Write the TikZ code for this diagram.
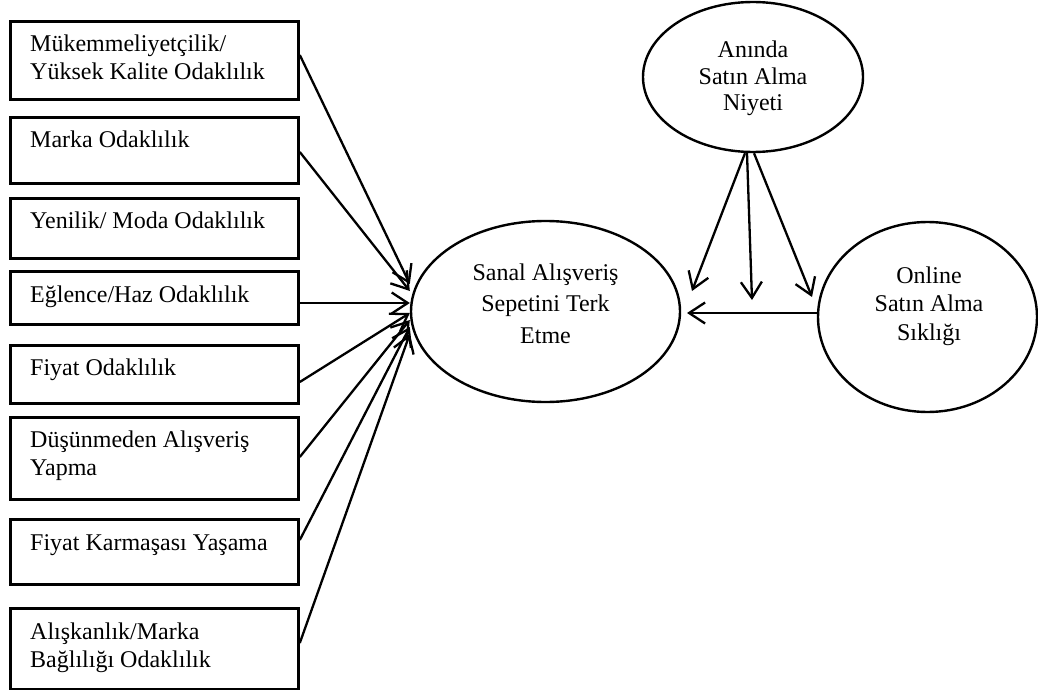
\documentclass[tikz,border=0pt]{standalone}
\usepackage{fontspec}
\setmainfont{Liberation Serif}
\usetikzlibrary{arrows.meta,shapes.geometric,calc}
\begin{document}
\begin{tikzpicture}[x=1pt,y=-1pt,
  box/.style={draw, line width=2.8pt, rectangle, inner sep=0pt, minimum width=288pt, anchor=north west},
  btext/.style={anchor=base west, align=left, inner sep=0pt, font=\fontsize{24}{28}\selectfont},
  ell/.style={draw, line width=2.4pt, ellipse, inner sep=0pt},
  etext/.style={anchor=base, align=center, inner sep=0pt},
  arr/.style={line width=2.3pt, -{Straight Barb[length=16pt,width=21pt,line width=2.3pt]}}
]
\useasboundingbox (0,0) rectangle (1038,690);

% left boxes
\node[box, minimum height=78pt] (b1) at (9,20) {};
\node[box, minimum height=66pt] (b2) at (9,116) {};
\node[box, minimum height=60pt] (b3) at (9,197) {};
\node[box, minimum height=53pt] (b4) at (9,270) {};
\node[box, minimum height=58pt] (b5) at (9,344) {};
\node[box, minimum height=82pt] (b6) at (9,416) {};
\node[box, minimum height=65pt] (b7) at (9,518) {};
\node[box, minimum height=81pt] (b8) at (9,607) {};

% (base anchor = baseline of the last line)
\node[btext] (t1) at ($(b1.north west)+(21,60)$) {Mükemmeliyetçilik/\\Yüksek Kalite Odaklılık};
\node[btext] (t2) at ($(b2.north west)+(21,31)$) {Marka Odaklılık};
\node[btext] (t3) at ($(b3.north west)+(21,31)$) {Yenilik/ Moda Odaklılık};
\node[btext] (t4) at ($(b4.north west)+(21,32)$) {Eğlence/Haz Odaklılık};
\node[btext] (t5) at ($(b5.north west)+(21,31)$) {Fiyat Odaklılık};
\node[btext] (t6) at ($(b6.north west)+(21,59)$) {Düşünmeden Alışveriş\\Yapma};
\node[btext] (t7) at ($(b7.north west)+(21,32)$) {Fiyat Karmaşası Yaşama};
\node[btext] (t8) at ($(b8.north west)+(21,60)$) {Alışkanlık/Marka\\Bağlılığı Odaklılık};

% ellipses
\node[ell, minimum width=269pt, minimum height=181pt] (c) at (545.5,311.5) {};
\node[ell, minimum width=220pt, minimum height=150pt] (a) at (753,77) {};
\node[ell, minimum width=219pt, minimum height=190pt] (r) at (927.5,317) {};

\node[etext, font=\fontsize{24}{26.5}\selectfont] (ta) at (753,111) {Anında\\Satın Alma\\Niyeti};
\node[etext, font=\fontsize{24}{31.5}\selectfont] (tc) at (545.5,343) {Sanal Alışveriş\\Sepetini Terk\\Etme};
\node[etext, font=\fontsize{24}{28.5}\selectfont] (tr) at (929,340) {Online\\Satın Alma\\Sıklığı};

% left arrows
\draw[arr] ($(b1.north east)+(0,35)$) -- ($(c.west)+(0,-27.5)$);
\draw[arr] ($(b2.north east)+(0,36)$) -- ($(c.west)+(0,-20.5)$);
\draw[arr] ($(b4.north east)+(0,33)$) -- ($(c.west)+(0,-8.5)$);
\draw[arr] ($(b5.north east)+(0,38)$) -- ($(c.west)+(0,1.5)$);
\draw[arr] ($(b6.north east)+(0,41)$) -- ($(c.west)+(0,8.5)$);
\draw[arr] ($(b7.north east)+(0,22)$) -- ($(c.west)+(0,15.5)$);
\draw[arr] ($(b8.north east)+(0,36)$) -- ($(c.west)+(0,22.5)$);

% right arrows
\coordinate (v1) at (692,291);
\coordinate (v2) at (752,300);
\coordinate (v3) at (812,297);
\coordinate (h) at (687,313);
\draw[arr] ($(a.south)+(-8,0)$) -- (v1);
\draw[arr] ($(a.south)+(-6,0)$) -- (v2);
\draw[arr] ($(a.south)+(1,0)$) -- (v3);
\draw[arr] (r.west |- h) -- (h);
\end{tikzpicture}
\end{document}
